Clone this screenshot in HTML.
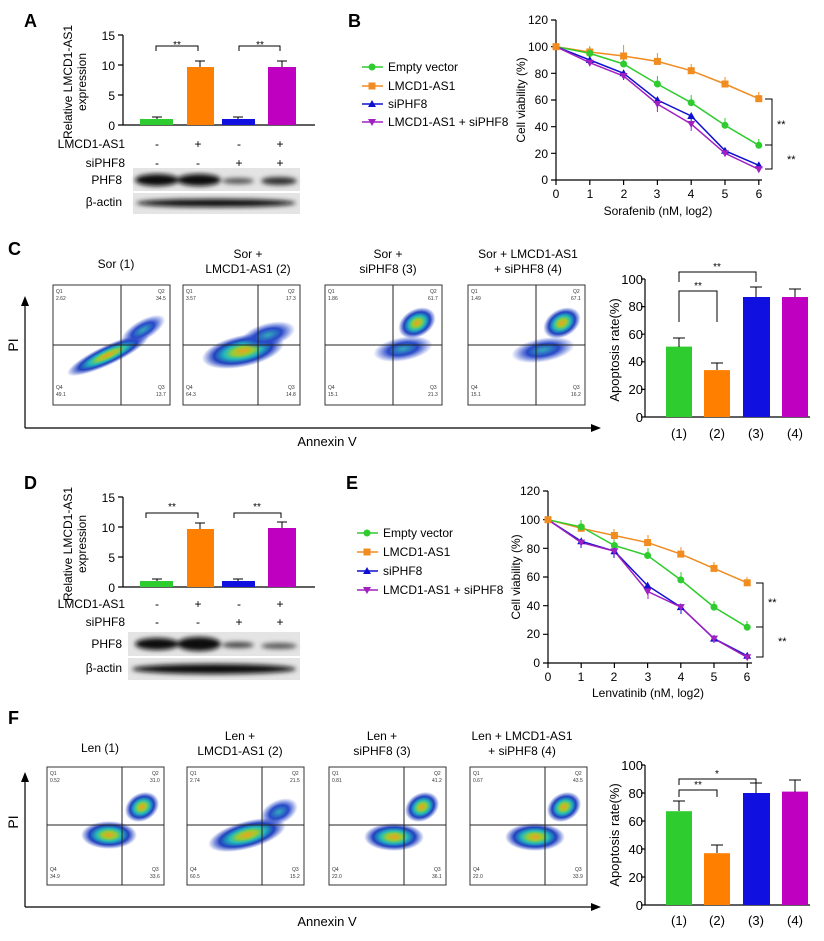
<!DOCTYPE html><html><head><style>body{margin:0;background:#fff}svg{display:block}text{font-family:"Liberation Sans",Arial,sans-serif}</style></head><body>
<svg width="824" height="941" viewBox="0 0 824 941" xmlns="http://www.w3.org/2000/svg">
<defs>
<filter id="bl"><feGaussianBlur stdDeviation="2.5"/></filter>
<radialGradient id="cl"><stop offset="0" stop-color="#f0a020"/><stop offset="0.25" stop-color="#9c3"/><stop offset="0.45" stop-color="#2bb"/><stop offset="0.7" stop-color="#2240c0"/><stop offset="1" stop-color="#2040c0" stop-opacity="0"/></radialGradient>
<radialGradient id="cb"><stop offset="0" stop-color="#3ab"/><stop offset="0.5" stop-color="#2848c8"/><stop offset="1" stop-color="#3050d0" stop-opacity="0"/></radialGradient>
</defs>
<g font-size="11" fill="#000">
<!-- Panel A -->
<text x="24" y="27" font-size="18" font-weight="bold">A</text>
<text transform="translate(72,82) rotate(-90)" text-anchor="middle" font-size="12">Relative LMCD1-AS1</text>
<text transform="translate(86,82) rotate(-90)" text-anchor="middle" font-size="12">expression</text>
<g stroke="#000" stroke-width="1.2" fill="none"><path d="M123,35V125H315M118,35H123M118,65H123M118,95H123M118,125H123"/></g>
<g font-size="12" text-anchor="end"><text x="115" y="40">15</text><text x="115" y="70">10</text><text x="115" y="100">5</text><text x="115" y="130">0</text></g>
<rect x="140" y="119" width="33" height="6" fill="#2ecc2e"/><rect x="187" y="67" width="27" height="58" fill="#ff8000"/><rect x="222" y="119" width="33" height="6" fill="#1010e0"/><rect x="268" y="67" width="28" height="58" fill="#c000c0"/>
<g stroke="#000" stroke-width="1" fill="none"><path d="M200,67V61M195,61H205M282,67V61M277,61H287M157,119V117M152,117H162M238,119V117M233,117H243M156,51V46H198V51M239,51V46H280V51"/></g>
<text x="177" y="48" text-anchor="middle" font-size="10">**</text><text x="260" y="48" text-anchor="middle" font-size="10">**</text>
<g font-size="12"><text x="125" y="148" text-anchor="end">LMCD1-AS1</text><text x="125" y="167" text-anchor="end">siPHF8</text><text x="122" y="184" text-anchor="end">PHF8</text><text x="122" y="206" text-anchor="end">β-actin</text>
<text x="157" y="148" text-anchor="middle">-</text><text x="198" y="148" text-anchor="middle">+</text><text x="239" y="148" text-anchor="middle">-</text><text x="280" y="148" text-anchor="middle">+</text>
<text x="157" y="167" text-anchor="middle">-</text><text x="198" y="167" text-anchor="middle">-</text><text x="239" y="167" text-anchor="middle">+</text><text x="280" y="167" text-anchor="middle">+</text></g>
<rect x="133" y="168" width="167" height="23" fill="#e4e4e4"/><rect x="133" y="193" width="167" height="21" fill="#e4e4e4"/>
<g filter="url(#bl)" fill="#111"><ellipse cx="157" cy="180" rx="22" ry="6"/><ellipse cx="199" cy="180" rx="22" ry="6"/><ellipse cx="238" cy="181" rx="16" ry="3" fill="#555"/><ellipse cx="279" cy="181" rx="18" ry="4" fill="#333"/>
<ellipse cx="216" cy="203" rx="80" ry="4"/></g>
<!-- Panel B -->
<text x="348" y="27" font-size="18" font-weight="bold">B</text>
<g font-size="12"><text x="388" y="71">Empty vector</text><text x="388" y="90">LMCD1-AS1</text><text x="388" y="108">siPHF8</text><text x="388" y="126">LMCD1-AS1 + siPHF8</text></g>
<path d="M362,67H383" stroke="#2ecc2e" stroke-width="1.5"/><circle cx="372" cy="67" r="3.5" fill="#2ecc2e"/>
<path d="M362,86H383" stroke="#f08c20" stroke-width="1.5"/><rect x="368.5" y="82.5" width="7" height="7" fill="#f08c20"/>
<path d="M362,104H383" stroke="#1010d0" stroke-width="1.5"/><path d="M372,100L376,107H368Z" fill="#1010d0"/>
<path d="M362,122H383" stroke="#a020c0" stroke-width="1.5"/><path d="M368,119H376L372,126Z" fill="#a020c0"/>
<text transform="translate(525,100) rotate(-90)" text-anchor="middle" font-size="12">Cell viability (%)</text>
<g stroke="#000" stroke-width="1.2" fill="none"><path d="M556,20V180H762M551,20H556M551,46.7H556M551,73.3H556M551,100H556M551,126.7H556M551,153.3H556M551,180H556M556,180V185M589.8,180V185M623.6,180V185M657.4,180V185M691.2,180V185M725,180V185M758.8,180V185"/></g>
<g font-size="12" text-anchor="end"><text x="548" y="24">120</text><text x="548" y="51">100</text><text x="548" y="78">80</text><text x="548" y="104">60</text><text x="548" y="131">40</text><text x="548" y="158">20</text><text x="548" y="184">0</text></g>
<g font-size="12" text-anchor="middle"><text x="556" y="198">0</text><text x="590" y="198">1</text><text x="624" y="198">2</text><text x="657" y="198">3</text><text x="691" y="198">4</text><text x="725" y="198">5</text><text x="759" y="198">6</text><text x="658" y="215">Sorafenib (nM, log2)</text></g>
<g fill="none" stroke-width="1.5">
<polyline stroke="#f08c20" points="556,46.7 589.8,52 623.6,56 657.4,61.4 691.2,70.7 725,84 758.8,98.7"/>
<polyline stroke="#2ecc2e" points="556,46.7 589.8,53.4 623.6,64 657.4,84 691.2,102.7 725,125.3 758.8,145.3"/>
<polyline stroke="#1010d0" points="556,46.7 589.8,60 623.6,73.3 657.4,100 691.2,116 725,150.7 758.8,165.3"/>
<polyline stroke="#a020c0" points="556,46.7 589.8,62.7 623.6,76 657.4,104 691.2,124 725,153.3 758.8,169.3"/>
</g>
<g stroke-width="1" fill="none">
<path stroke="#f08c20" d="M589.8,52V46M623.6,56V45M657.4,61V53M691.2,71V64M725,84V77M758.8,99V92"/>
<path stroke="#2ecc2e" d="M589.8,53V47M623.6,64V57M657.4,84V76M691.2,103V95M725,125V118M758.8,145V139"/>
<path stroke="#1010d0" d="M589.8,60V66M623.6,73V80M657.4,100V108M691.2,116V123M725,151V156M758.8,165V170"/>
<path stroke="#a020c0" d="M657.4,104V112M691.2,124V131"/>
</g>
<g fill="#f08c20"><rect x="552.5" y="43.2" width="7" height="7"/><rect x="586.3" y="48.5" width="7" height="7"/><rect x="620.1" y="52.5" width="7" height="7"/><rect x="653.9" y="57.9" width="7" height="7"/><rect x="687.7" y="67.2" width="7" height="7"/><rect x="721.5" y="80.5" width="7" height="7"/><rect x="755.3" y="95.2" width="7" height="7"/></g>
<g fill="#2ecc2e"><circle cx="589.8" cy="53.4" r="3.5"/><circle cx="623.6" cy="64" r="3.5"/><circle cx="657.4" cy="84" r="3.5"/><circle cx="691.2" cy="102.7" r="3.5"/><circle cx="725" cy="125.3" r="3.5"/><circle cx="758.8" cy="145.3" r="3.5"/></g>
<g fill="#1010d0"><path d="M589.8,56l4,7h-8z M623.6,69.3l4,7h-8z M657.4,96l4,7h-8z M691.2,112l4,7h-8z M725,146.7l4,7h-8z M758.8,161.3l4,7h-8z"/></g>
<g fill="#a020c0"><path d="M585.8,59.7h8l-4,7z M619.6,73h8l-4,7z M653.4,101h8l-4,7z M687.2,121h8l-4,7z M721,150.3h8l-4,7z M754.8,166.3h8l-4,7z"/></g>
<path d="M765,99H772V145H765M765,145H772V169H765" stroke="#000" fill="none"/>
<text x="777" y="128" font-size="11">**</text><text x="787" y="163" font-size="11">**</text>

<!-- Panel C -->
<text x="8" y="255" font-size="18" font-weight="bold">C</text>
<g font-size="12" text-anchor="middle"><text x="116" y="268">Sor (1)</text><text x="248" y="258">Sor +</text><text x="248" y="273">LMCD1-AS1 (2)</text><text x="388" y="258">Sor +</text><text x="388" y="273">siPHF8 (3)</text><text x="528" y="258">Sor + LMCD1-AS1</text><text x="528" y="273">+ siPHF8 (4)</text></g>
<path d="M25,428V305M25,428H595" stroke="#000" stroke-width="1.2"/><path d="M25,296l-4,10h8z" fill="#000"/><path d="M601,428l-10,-4v8z" fill="#000"/>
<text transform="translate(18,345) rotate(-90)" text-anchor="middle" font-size="14">PI</text>
<text x="327" y="446" text-anchor="middle" font-size="13">Annexin V</text>
<g font-size="5" fill="#333">
<g transform="translate(53,285)"><rect width="117" height="120" fill="#fff" stroke="#333"/><ellipse cx="55" cy="70" rx="45" ry="10" transform="rotate(-25 55 70)" fill="url(#cl)"/><ellipse cx="90" cy="45" rx="25" ry="10" transform="rotate(-30 90 45)" fill="url(#cb)"/><path d="M68,0V120M0,60H117" stroke="#222"/><text x="3" y="8">Q1</text><text x="3" y="15">2.62</text><text x="105" y="8">Q2</text><text x="103" y="15">34.5</text><text x="3" y="104">Q4</text><text x="3" y="111">49.1</text><text x="105" y="104">Q3</text><text x="103" y="111">13.7</text></g>
<g transform="translate(183,285)"><rect width="117" height="120" fill="#fff" stroke="#333"/><ellipse cx="60" cy="66" rx="42" ry="16" transform="rotate(-12 60 66)" fill="url(#cl)"/><ellipse cx="85" cy="50" rx="28" ry="12" transform="rotate(-15 85 50)" fill="url(#cb)"/><path d="M75,0V120M0,60H117" stroke="#222"/><text x="3" y="8">Q1</text><text x="3" y="15">3.57</text><text x="105" y="8">Q2</text><text x="103" y="15">17.3</text><text x="3" y="104">Q4</text><text x="3" y="111">64.3</text><text x="105" y="104">Q3</text><text x="103" y="111">14.8</text></g>
<g transform="translate(325,285)"><rect width="117" height="120" fill="#fff" stroke="#333"/><ellipse cx="78" cy="64" rx="30" ry="12" transform="rotate(-10 78 64)" fill="url(#cb)"/><ellipse cx="92" cy="38" rx="20" ry="14" transform="rotate(-30 92 38)" fill="url(#cl)"/><path d="M68,0V120M0,60H117" stroke="#222"/><text x="3" y="8">Q1</text><text x="3" y="15">1.86</text><text x="105" y="8">Q2</text><text x="103" y="15">61.7</text><text x="3" y="104">Q4</text><text x="3" y="111">15.1</text><text x="105" y="104">Q3</text><text x="103" y="111">21.3</text></g>
<g transform="translate(468,285)"><rect width="117" height="120" fill="#fff" stroke="#333"/><ellipse cx="75" cy="65" rx="32" ry="12" transform="rotate(-10 75 65)" fill="url(#cb)"/><ellipse cx="94" cy="38" rx="20" ry="14" transform="rotate(-30 94 38)" fill="url(#cl)"/><path d="M68,0V120M0,60H117" stroke="#222"/><text x="3" y="8">Q1</text><text x="3" y="15">1.49</text><text x="105" y="8">Q2</text><text x="103" y="15">67.1</text><text x="3" y="104">Q4</text><text x="3" y="111">15.1</text><text x="105" y="104">Q3</text><text x="103" y="111">16.2</text></g>
</g>
<text transform="translate(619,350) rotate(-90)" text-anchor="middle" font-size="13">Apoptosis rate(%)</text>
<g stroke="#000" stroke-width="1.2" fill="none"><path d="M645,279V417H810M641,279H645M641,306.6H645M641,334.2H645M641,361.8H645M641,389.4H645M641,417H645"/></g>
<g font-size="13" text-anchor="end"><text x="643" y="284">100</text><text x="643" y="311">80</text><text x="643" y="339">60</text><text x="643" y="366">40</text><text x="643" y="394">20</text><text x="643" y="422">0</text></g>
<g font-size="13" text-anchor="middle"><text x="679" y="438">(1)</text><text x="717" y="438">(2)</text><text x="756" y="438">(3)</text><text x="795" y="438">(4)</text></g>
<rect x="666" y="346.6" width="26" height="70.4" fill="#2ecc2e"/><rect x="704" y="370.1" width="26" height="46.9" fill="#ff8000"/><rect x="743" y="297" width="27" height="120" fill="#1010e0"/><rect x="782" y="297" width="26" height="120" fill="#c000c0"/>
<path d="M679,347V338M673,338H685M717,370V363M711,363H723M756,297V287M750,287H762M795,297V289M789,289H801M679,322V291H717V322M679,282V272H756V282" stroke="#000" fill="none"/>
<text x="698" y="289" text-anchor="middle" font-size="10">**</text><text x="717" y="270" text-anchor="middle" font-size="10">**</text>

<!-- Panel D -->
<text x="24" y="489" font-size="18" font-weight="bold">D</text>
<text transform="translate(72,544) rotate(-90)" text-anchor="middle" font-size="12">Relative LMCD1-AS1</text>
<text transform="translate(86,544) rotate(-90)" text-anchor="middle" font-size="12">expression</text>
<g stroke="#000" stroke-width="1.2" fill="none"><path d="M123,497V587H315M118,497H123M118,527H123M118,557H123M118,587H123"/></g>
<g font-size="12" text-anchor="end"><text x="115" y="502">15</text><text x="115" y="532">10</text><text x="115" y="562">5</text><text x="115" y="592">0</text></g>
<rect x="140" y="581" width="33" height="6" fill="#2ecc2e"/><rect x="187" y="529" width="27" height="58" fill="#ff8000"/><rect x="222" y="581" width="33" height="6" fill="#1010e0"/><rect x="268" y="528" width="28" height="59" fill="#c000c0"/>
<g stroke="#000" stroke-width="1" fill="none"><path d="M200,529V523M195,523H205M282,528V522M277,522H287M157,581V579M152,579H162M238,581V579M233,579H243M146,518V513H198V518M234,518V513H281V518"/></g>
<text x="172" y="510" text-anchor="middle" font-size="10">**</text><text x="257" y="510" text-anchor="middle" font-size="10">**</text>
<g font-size="12"><text x="125" y="608" text-anchor="end">LMCD1-AS1</text><text x="125" y="626" text-anchor="end">siPHF8</text><text x="122" y="648" text-anchor="end">PHF8</text><text x="122" y="672" text-anchor="end">β-actin</text>
<text x="157" y="608" text-anchor="middle">-</text><text x="198" y="608" text-anchor="middle">+</text><text x="239" y="608" text-anchor="middle">-</text><text x="280" y="608" text-anchor="middle">+</text>
<text x="157" y="626" text-anchor="middle">-</text><text x="198" y="626" text-anchor="middle">-</text><text x="239" y="626" text-anchor="middle">+</text><text x="280" y="626" text-anchor="middle">+</text></g>
<rect x="128" y="632" width="172" height="24" fill="#e4e4e4"/><rect x="128" y="658" width="172" height="22" fill="#e4e4e4"/>
<g filter="url(#bl)" fill="#111"><ellipse cx="157" cy="644" rx="22" ry="6"/><ellipse cx="199" cy="644" rx="22" ry="7"/><ellipse cx="238" cy="645" rx="16" ry="3" fill="#444"/><ellipse cx="279" cy="646" rx="18" ry="3" fill="#555"/>
<ellipse cx="214" cy="669" rx="82" ry="5"/></g>
<!-- Panel E -->
<text x="346" y="489" font-size="18" font-weight="bold">E</text>
<g font-size="12"><text x="383" y="537">Empty vector</text><text x="383" y="556">LMCD1-AS1</text><text x="383" y="575">siPHF8</text><text x="383" y="594">LMCD1-AS1 + siPHF8</text></g>
<path d="M357,533H378" stroke="#2ecc2e" stroke-width="1.5"/><circle cx="367" cy="533" r="3.5" fill="#2ecc2e"/>
<path d="M357,552H378" stroke="#f08c20" stroke-width="1.5"/><rect x="363.5" y="548.5" width="7" height="7" fill="#f08c20"/>
<path d="M357,571H378" stroke="#1010d0" stroke-width="1.5"/><path d="M367,567L371,574H363Z" fill="#1010d0"/>
<path d="M357,590H378" stroke="#a020c0" stroke-width="1.5"/><path d="M363,587H371L367,594Z" fill="#a020c0"/>
<text transform="translate(520,577) rotate(-90)" text-anchor="middle" font-size="12">Cell viability (%)</text>
<g stroke="#000" stroke-width="1.2" fill="none"><path d="M548,491V663H752M543,491H548M543,519.7H548M543,548.3H548M543,577H548M543,605.7H548M543,634.3H548M543,663H548M548,663V668M581.2,663V668M614.4,663V668M647.6,663V668M680.8,663V668M714,663V668M747.2,663V668"/></g>
<g font-size="12" text-anchor="end"><text x="540" y="495">120</text><text x="540" y="524">100</text><text x="540" y="553">80</text><text x="540" y="581">60</text><text x="540" y="610">40</text><text x="540" y="638">20</text><text x="540" y="667">0</text></g>
<g font-size="12" text-anchor="middle"><text x="548" y="681">0</text><text x="581" y="681">1</text><text x="614" y="681">2</text><text x="648" y="681">3</text><text x="681" y="681">4</text><text x="714" y="681">5</text><text x="747" y="681">6</text><text x="648" y="697">Lenvatinib (nM, log2)</text></g>
<g fill="none" stroke-width="1.5">
<polyline stroke="#f08c20" points="548,519.7 581.2,528.3 614.4,535.5 647.6,542.6 680.8,554.1 714,568.4 747.2,582.8"/>
<polyline stroke="#2ecc2e" points="548,519.7 581.2,526.9 614.4,545.5 647.6,555.5 680.8,579.9 714,607.1 747.2,627.2"/>
<polyline stroke="#1010d0" points="548,519.7 581.2,541.2 614.4,551.2 647.6,585.6 680.8,607.1 714,638.6 747.2,655.8"/>
<polyline stroke="#a020c0" points="548,519.7 581.2,542.6 614.4,551.2 647.6,591.4 680.8,607.1 714,638.6 747.2,657.3"/>
</g>
<g stroke-width="1" fill="none">
<path stroke="#f08c20" d="M581,528V521M614,535V529M648,543V535M681,554V547M714,568V562M747,583V577"/>
<path stroke="#2ecc2e" d="M581,527V520M614,545V539M648,555V548M681,580V572M714,607V601M747,627V621"/>
<path stroke="#1010d0" d="M581,541V548M614,551V558M648,586V594M681,607V614M714,639V643"/>
<path stroke="#a020c0" d="M648,591V599"/>
</g>
<g fill="#f08c20"><rect x="544.5" y="516.2" width="7" height="7"/><rect x="577.7" y="524.8" width="7" height="7"/><rect x="610.9" y="532" width="7" height="7"/><rect x="644.1" y="539.1" width="7" height="7"/><rect x="677.3" y="550.6" width="7" height="7"/><rect x="710.5" y="564.9" width="7" height="7"/><rect x="743.7" y="579.3" width="7" height="7"/></g>
<g fill="#2ecc2e"><circle cx="581.2" cy="526.9" r="3.5"/><circle cx="614.4" cy="545.5" r="3.5"/><circle cx="647.6" cy="555.5" r="3.5"/><circle cx="680.8" cy="579.9" r="3.5"/><circle cx="714" cy="607.1" r="3.5"/><circle cx="747.2" cy="627.2" r="3.5"/></g>
<g fill="#1010d0"><path d="M581.2,537.2l4,7h-8z M614.4,547.2l4,7h-8z M647.6,581.6l4,7h-8z M680.8,603.1l4,7h-8z M714,634.6l4,7h-8z M747.2,651.8l4,7h-8z"/></g>
<g fill="#a020c0"><path d="M577.2,539.6h8l-4,7z M610.4,548.2h8l-4,7z M643.6,588.4h8l-4,7z M676.8,604.1h8l-4,7z M710,635.6h8l-4,7z M743.2,654.3h8l-4,7z"/></g>
<path d="M756,583H763V627H756M756,627H763V657H756" stroke="#000" fill="none"/>
<text x="768" y="606" font-size="11">**</text><text x="778" y="645" font-size="11">**</text>

<!-- Panel F -->
<text x="8" y="724" font-size="18" font-weight="bold">F</text>
<g font-size="12" text-anchor="middle"><text x="100" y="752">Len (1)</text><text x="240" y="740">Len +</text><text x="240" y="755">LMCD1-AS1 (2)</text><text x="382" y="740">Len +</text><text x="382" y="755">siPHF8 (3)</text><text x="522" y="740">Len + LMCD1-AS1</text><text x="522" y="755">+ siPHF8 (4)</text></g>
<path d="M25,907V780M25,907H595" stroke="#000" stroke-width="1.2"/><path d="M25,772l-4,10h8z" fill="#000"/><path d="M601,907l-10,-4v8z" fill="#000"/>
<text transform="translate(18,822) rotate(-90)" text-anchor="middle" font-size="14">PI</text>
<text x="327" y="926" text-anchor="middle" font-size="13">Annexin V</text>
<g font-size="5" fill="#333">
<g transform="translate(47,767)"><rect width="117" height="118" fill="#fff" stroke="#333"/><ellipse cx="62" cy="68" rx="28" ry="14" fill="url(#cl)"/><ellipse cx="95" cy="40" rx="18" ry="14" transform="rotate(-30 95 40)" fill="url(#cl)"/><path d="M75,0V118M0,58H117" stroke="#222"/><text x="3" y="8">Q1</text><text x="3" y="15">0.52</text><text x="105" y="8">Q2</text><text x="103" y="15">31.0</text><text x="3" y="104">Q4</text><text x="3" y="111">34.9</text><text x="105" y="104">Q3</text><text x="103" y="111">33.6</text></g>
<g transform="translate(187,767)"><rect width="117" height="118" fill="#fff" stroke="#333"/><ellipse cx="60" cy="68" rx="40" ry="14" transform="rotate(-15 60 68)" fill="url(#cl)"/><ellipse cx="92" cy="45" rx="20" ry="12" transform="rotate(-25 92 45)" fill="url(#cb)"/><path d="M75,0V118M0,58H117" stroke="#222"/><text x="3" y="8">Q1</text><text x="3" y="15">2.74</text><text x="105" y="8">Q2</text><text x="103" y="15">21.5</text><text x="3" y="104">Q4</text><text x="3" y="111">60.5</text><text x="105" y="104">Q3</text><text x="103" y="111">15.2</text></g>
<g transform="translate(329,767)"><rect width="117" height="118" fill="#fff" stroke="#333"/><ellipse cx="65" cy="70" rx="30" ry="14" fill="url(#cl)"/><ellipse cx="93" cy="40" rx="18" ry="14" transform="rotate(-30 93 40)" fill="url(#cl)"/><path d="M75,0V118M0,58H117" stroke="#222"/><text x="3" y="8">Q1</text><text x="3" y="15">0.81</text><text x="105" y="8">Q2</text><text x="103" y="15">41.2</text><text x="3" y="104">Q4</text><text x="3" y="111">22.0</text><text x="105" y="104">Q3</text><text x="103" y="111">36.1</text></g>
<g transform="translate(470,767)"><rect width="117" height="118" fill="#fff" stroke="#333"/><ellipse cx="65" cy="70" rx="30" ry="14" fill="url(#cl)"/><ellipse cx="94" cy="40" rx="18" ry="14" transform="rotate(-30 94 40)" fill="url(#cl)"/><path d="M75,0V118M0,58H117" stroke="#222"/><text x="3" y="8">Q1</text><text x="3" y="15">0.67</text><text x="105" y="8">Q2</text><text x="103" y="15">43.5</text><text x="3" y="104">Q4</text><text x="3" y="111">22.0</text><text x="105" y="104">Q3</text><text x="103" y="111">33.9</text></g>
</g>
<text transform="translate(619,835) rotate(-90)" text-anchor="middle" font-size="13">Apoptosis rate(%)</text>
<g stroke="#000" stroke-width="1.2" fill="none"><path d="M645,765V905H810M641,765H645M641,793H645M641,821H645M641,849H645M641,877H645M641,905H645"/></g>
<g font-size="13" text-anchor="end"><text x="643" y="770">100</text><text x="643" y="798">80</text><text x="643" y="826">60</text><text x="643" y="854">40</text><text x="643" y="882">20</text><text x="643" y="910">0</text></g>
<g font-size="13" text-anchor="middle"><text x="679" y="925">(1)</text><text x="717" y="925">(2)</text><text x="756" y="925">(3)</text><text x="795" y="925">(4)</text></g>
<rect x="666" y="811.2" width="26" height="93.8" fill="#2ecc2e"/><rect x="704" y="853.2" width="26" height="51.8" fill="#ff8000"/><rect x="743" y="793" width="27" height="112" fill="#1010e0"/><rect x="782" y="791.6" width="26" height="113.4" fill="#c000c0"/>
<path d="M679,811V801M673,801H685M717,853V845M711,845H723M756,793V783M750,783H762M795,792V780M789,780H801M679,797V790H717V797M679,785V779H756V785" stroke="#000" fill="none"/>
<text x="698" y="788" text-anchor="middle" font-size="10">**</text><text x="717" y="777" text-anchor="middle" font-size="10">*</text>
</g>
</svg>
</body></html>
